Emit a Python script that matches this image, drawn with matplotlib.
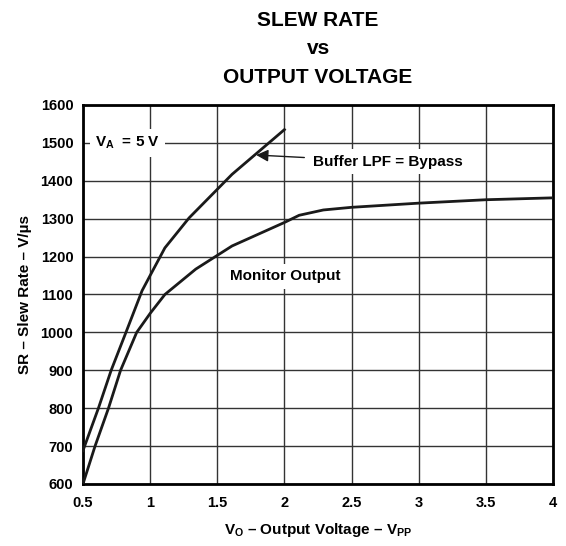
import numpy as np
import matplotlib
matplotlib.use("Agg")
import matplotlib.pyplot as plt

plt.rcParams['font.family'] = ['Liberation Sans', 'DejaVu Sans']
plt.rcParams['font.weight'] = 'bold'
plt.rcParams['mathtext.fontset'] = 'custom'
plt.rcParams['mathtext.rm'] = 'Liberation Sans:bold'
plt.rcParams['mathtext.bf'] = 'Liberation Sans:bold'
plt.rcParams['mathtext.it'] = 'Liberation Sans:bold'

# curve readings (V_PP, V/us)
buffer_x = [0.5, 0.615, 0.71, 0.82, 0.94, 1.0, 1.11, 1.29, 1.61, 2.0]
buffer_y = [688, 800, 900, 1000, 1110, 1150, 1223, 1302, 1417, 1535]

monitor_x = [0.5, 0.59, 0.69, 0.78, 0.90, 1.0, 1.11, 1.34, 1.61, 2.0,
             2.11, 2.29, 2.5, 3.0, 3.5, 4.0]
monitor_y = [600, 700, 800, 900, 1000, 1050, 1100, 1167, 1228, 1290,
             1309, 1323, 1330, 1341, 1350, 1355]

x_ticks = [0.5, 1, 1.5, 2, 2.5, 3, 3.5, 4]
x_labels = ['0.5', '1', '1.5', '2', '2.5', '3', '3.5', '4']
y_ticks = [600, 700, 800, 900, 1000, 1100, 1200, 1300, 1400, 1500, 1600]

fig = plt.figure(figsize=(5.66, 5.46), dpi=100)
ax = fig.add_axes([0.1466, 0.1136, 0.8304, 0.6941])

ax.plot(buffer_x, buffer_y, color='#1a1a1a', lw=2, zorder=3)
ax.plot(monitor_x, monitor_y, color='#1a1a1a', lw=2, zorder=3)

ax.set_xlim(0.5, 4)
ax.set_ylim(600, 1600)
ax.set_xticks(x_ticks)
ax.set_xticklabels(x_labels)
ax.set_yticks(y_ticks)
ax.tick_params(length=0, labelsize=10.5)
ax.tick_params(axis='x', pad=9)
ax.tick_params(axis='y', pad=7)
for lab in ax.get_xticklabels() + ax.get_yticklabels():
    lab.set_fontweight('bold')
ax.grid(True, color='#333333', lw=1)
ax.set_axisbelow(True)
for s in ax.spines.values():
    s.set_linewidth(2)
    s.set_color('black')

# axis titles placed directly to match the layout
fig.text(0.562, 0.029, r'$\mathregular{V_O}$ – Output Voltage – $\mathregular{V_{PP}}$',
         ha='center', va='center', fontsize=11, fontweight='bold')
fig.text(0.044, 0.46, 'SR – Slew Rate – V/µs', ha='center', va='center',
         rotation=90, fontsize=11, fontweight='bold')

fig.text(0.562, 0.963, 'SLEW RATE', ha='center', va='center', fontsize=15, fontweight='bold')
fig.text(0.562, 0.912, 'vs', ha='center', va='center', fontsize=15, fontweight='bold')
fig.text(0.562, 0.858, 'OUTPUT VOLTAGE', ha='center', va='center', fontsize=15, fontweight='bold')

box = dict(facecolor='white', edgecolor='none', pad=4)
ax.text(0.59, 1500, r'$\mathregular{V_A}$  = 5 V', ha='left', va='center',
        fontsize=11, fontweight='bold', bbox=box, zorder=4)
ax.annotate('Buffer LPF = Bypass', xy=(1.79, 1468), xytext=(2.21, 1450),
            ha='left', va='center', fontsize=11, fontweight='bold', bbox=box,
            arrowprops=dict(arrowstyle='-|>', color='#1a1a1a', lw=1,
                            mutation_scale=18, shrinkA=2, shrinkB=0),
            zorder=4)
ax.text(2.01, 1148, 'Monitor Output', ha='center', va='center',
        fontsize=11, fontweight='bold', bbox=box, zorder=4)

fig.savefig('out.png', dpi=100)
